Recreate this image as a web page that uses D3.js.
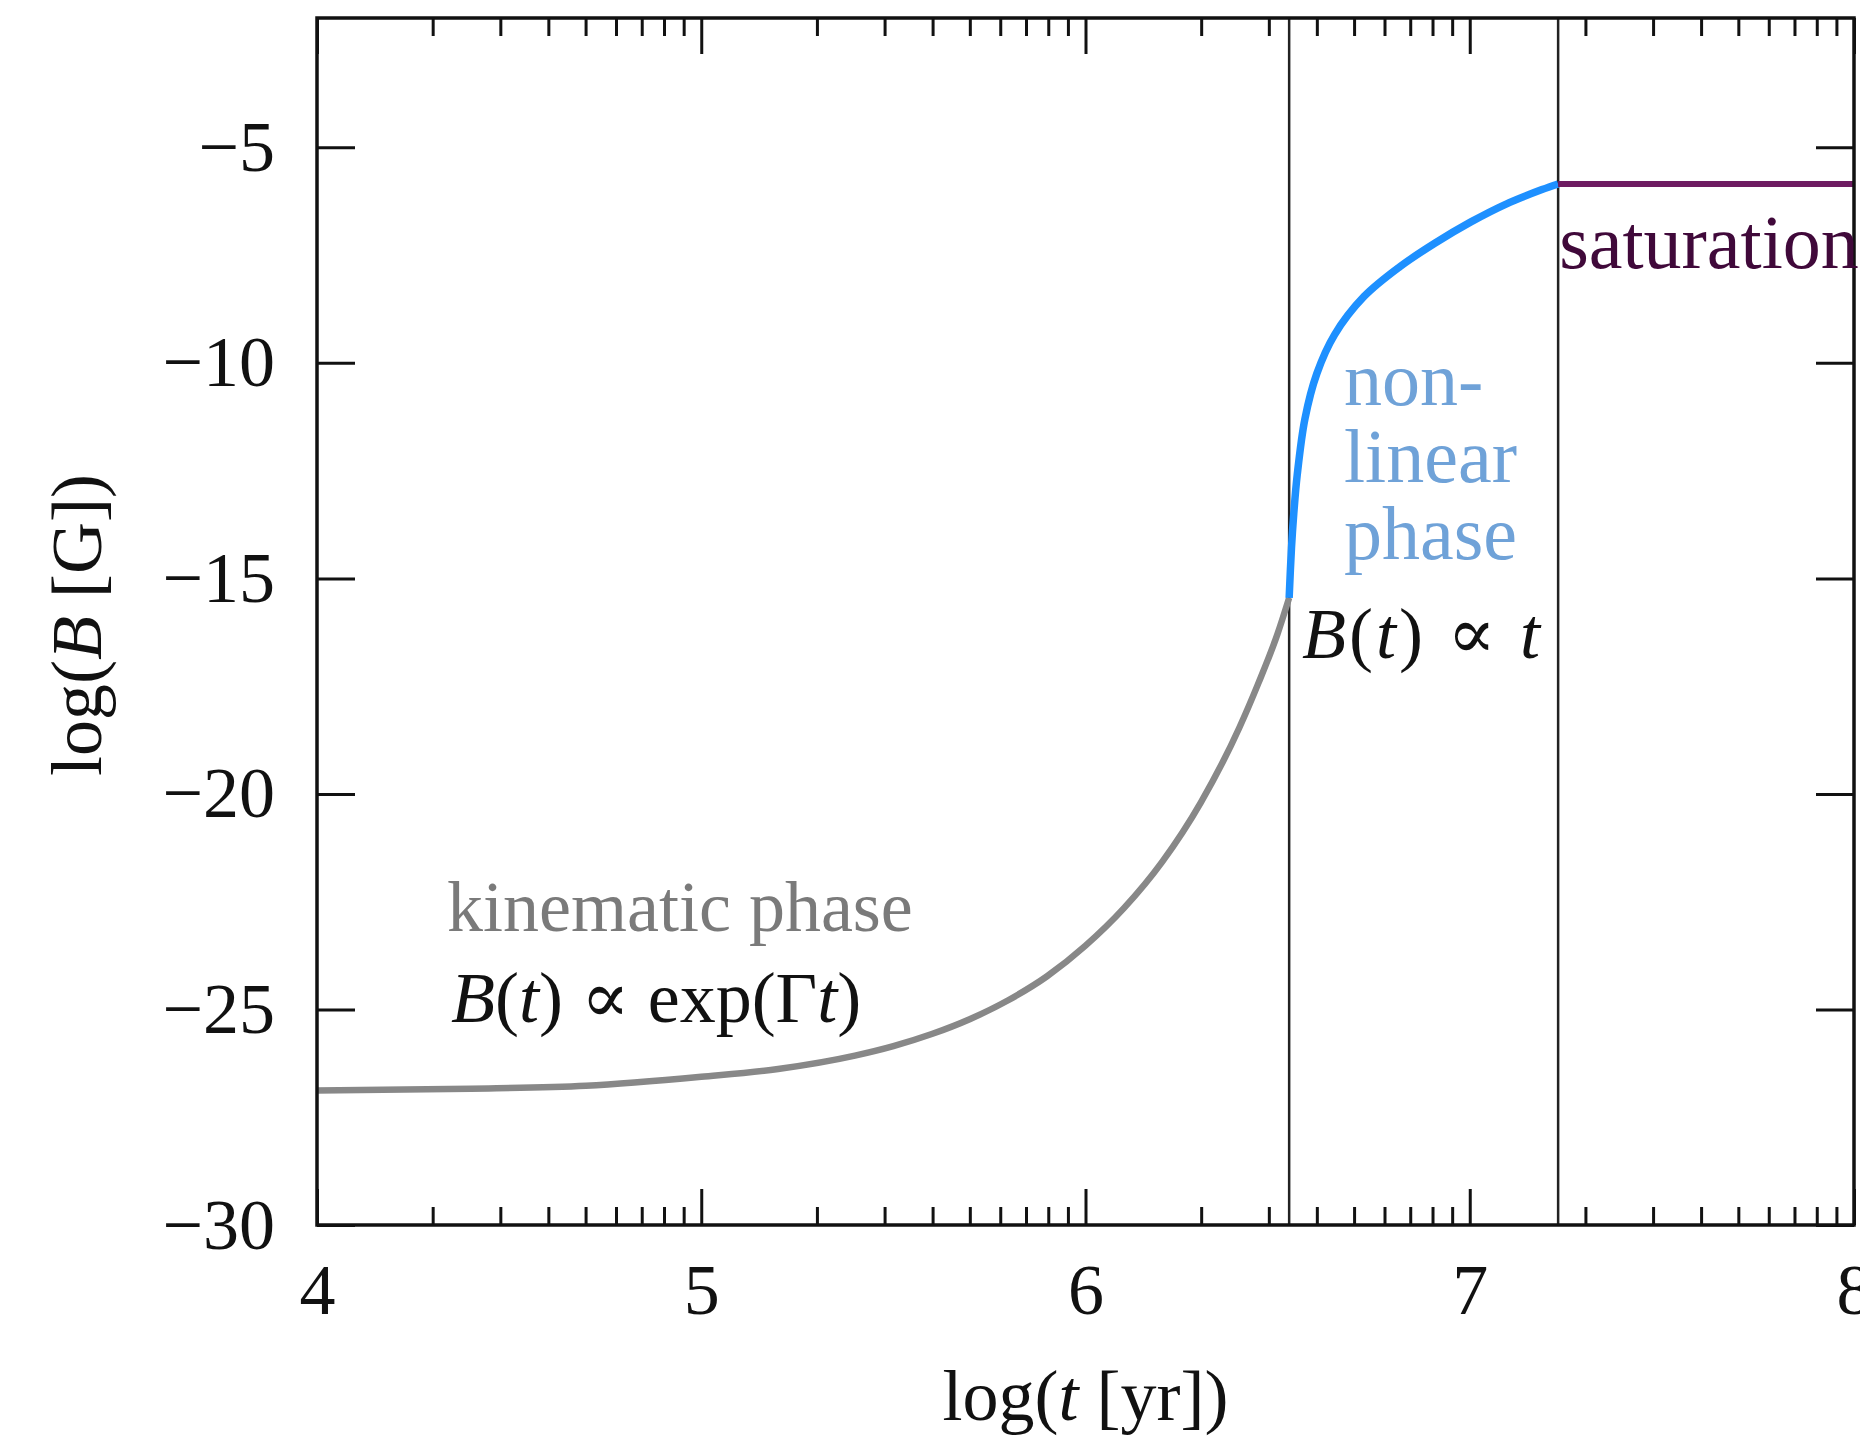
<!DOCTYPE html>
<html>
<head>
<meta charset="utf-8">
<script src="https://cdn.jsdelivr.net/npm/d3@7"></script>
<style>
  body { margin: 0; background: #fff; }
  text { font-family: "Liberation Serif", "DejaVu Serif", serif; }
</style>
</head>
<body>
<div id="chart"></div>
<script>
// log(t) and log(B)
const kinematicX = [4.0, 4.4, 4.7, 5.0, 5.2, 5.4, 5.5, 5.6, 5.7, 5.8, 5.9, 6.0, 6.1, 6.2, 6.3, 6.4, 6.45, 6.5, 6.53];
const kinematicY = [-26.88, -26.84, -26.77, -26.56, -26.38, -26.07, -25.85, -25.57, -25.22, -24.78, -24.23, -23.52, -22.65, -21.57, -20.2, -18.47, -17.43, -16.28, -15.45];

const nonlinearX = [6.53, 6.536, 6.542, 6.551, 6.571, 6.602, 6.648, 6.725, 6.818, 6.91, 7.003, 7.096, 7.188, 7.23];
const nonlinearY = [-15.45, -14.3, -13.5, -12.6, -11.3, -10.25, -9.35, -8.46, -7.77, -7.22, -6.73, -6.31, -5.98, -5.85];

const saturationX = [7.23, 8.0];
const saturationY = [-5.85, -5.85];

const phaseBounds = [6.53, 7.23];

const xMajor = [4, 5, 6, 7, 8];
const yMajor = [-5, -10, -15, -20, -25, -30];

function renderChart(containerId) {
    const W = 1860, H = 1438;
    const margin = { top: 18, right: 6, bottom: 213, left: 317 };
    const width = W - margin.left - margin.right;
    const height = H - margin.top - margin.bottom;

    const svg = d3.select(`#${containerId}`)
        .append('svg')
        .attr('width', W)
        .attr('height', H)
        .append('g')
        .attr('transform', `translate(${margin.left},${margin.top})`);

    const x = d3.scaleLinear().domain([4, 8]).range([0, width]);
    const y = d3.scaleLinear().domain([-30, -2]).range([height, 0]);

    // minor ticks at log10(k * 10^n)
    const xMinor = [];
    for (let n = 4; n < 8; n++) {
        for (let k = 2; k <= 9; k++) xMinor.push(n + Math.log10(k));
    }

    const fmt = d3.format('d');

    const styleAxis = g => {
        g.select('.domain').remove();
        g.selectAll('line').attr('stroke', '#111').attr('stroke-width', 3);
        g.selectAll('text')
            .attr('fill', '#111')
            .style('font-size', '72px')
            .style('font-family', '"Liberation Serif", serif');
    };

    // bottom
    svg.append('g')
        .attr('transform', `translate(0,${height})`)
        .call(d3.axisBottom(x).tickValues(xMajor).tickFormat(fmt).tickSizeInner(-36).tickSizeOuter(0).tickPadding(38))
        .call(styleAxis);
    svg.append('g')
        .attr('transform', `translate(0,${height})`)
        .call(d3.axisBottom(x).tickValues(xMinor).tickFormat('').tickSizeInner(-18).tickSizeOuter(0))
        .call(styleAxis);
    // top
    svg.append('g')
        .call(d3.axisTop(x).tickValues(xMajor).tickFormat('').tickSizeInner(-36).tickSizeOuter(0))
        .call(styleAxis);
    svg.append('g')
        .call(d3.axisTop(x).tickValues(xMinor).tickFormat('').tickSizeInner(-18).tickSizeOuter(0))
        .call(styleAxis);
    // left
    svg.append('g')
        .call(d3.axisLeft(y).tickValues(yMajor).tickFormat(fmt).tickSizeInner(-38).tickSizeOuter(0).tickPadding(42))
        .call(styleAxis);
    // right
    svg.append('g')
        .attr('transform', `translate(${width},0)`)
        .call(d3.axisRight(y).tickValues(yMajor).tickFormat('').tickSizeInner(-38).tickSizeOuter(0))
        .call(styleAxis);

    // phase boundaries
    svg.selectAll('.bound')
        .data(phaseBounds)
        .enter()
        .append('line')
        .attr('x1', d => x(d))
        .attr('x2', d => x(d))
        .attr('y1', 0)
        .attr('y2', height)
        .attr('stroke', '#222')
        .attr('stroke-width', 2.5);

    const curves = [
        { xs: kinematicX, ys: kinematicY, color: '#888888', w: 6.5, curve: d3.curveMonotoneX },
        { xs: nonlinearX, ys: nonlinearY, color: '#1e90ff', w: 7.5, curve: d3.curveCatmullRom.alpha(0.5) },
        { xs: saturationX, ys: saturationY, color: '#6e1c62', w: 6, curve: d3.curveLinear }
    ];
    curves.forEach(c => {
        const line = d3.line()
            .x(d => x(d[0]))
            .y(d => y(d[1]))
            .curve(c.curve);
        svg.append('path')
            .datum(d3.zip(c.xs, c.ys))
            .attr('fill', 'none')
            .attr('stroke', c.color)
            .attr('stroke-width', c.w)
            .attr('d', line);
    });

    // frame
    svg.append('rect')
        .attr('width', width)
        .attr('height', height)
        .attr('fill', 'none')
        .attr('stroke', '#111')
        .attr('stroke-width', 3.5);

    // annotations
    const ann = svg.append('g').style('font-size', '72px');

    ann.append('text')
        .attr('x', 130).attr('y', 913)
        .attr('fill', '#7a7a7a')
        .text('kinematic phase');

    const kin = ann.append('text').attr('x', 134).attr('y', 1004).attr('fill', '#111');
    kin.append('tspan').style('font-style', 'italic').text('B');
    kin.append('tspan').text('(');
    kin.append('tspan').style('font-style', 'italic').text('t');
    kin.append('tspan').text(') ∝ exp(Γ');
    kin.append('tspan').style('font-style', 'italic').text('t');
    kin.append('tspan').text(')');

    ['non-', 'linear', 'phase'].forEach((s, i) => {
        ann.append('text')
            .attr('x', 1027).attr('y', 387 + i * 77)
            .attr('fill', '#6fa2d8')
            .style('font-size', '76px')
            .text(s);
    });

    const nl = ann.append('text').attr('x', 985).attr('y', 640).attr('fill', '#111')
        .attr('textLength', 238).attr('lengthAdjust', 'spacing');
    nl.append('tspan').style('font-style', 'italic').text('B');
    nl.append('tspan').text('(');
    nl.append('tspan').style('font-style', 'italic').text('t');
    nl.append('tspan').text(') ∝ ');
    nl.append('tspan').style('font-style', 'italic').text('t');

    ann.append('text')
        .attr('x', x(7.23) + 1).attr('y', 250)
        .attr('fill', '#40093a')
        .style('font-size', '76px')
        .text('saturation');

    // axis titles
    const xt = svg.append('text')
        .attr('x', x(6)).attr('y', height + 195)
        .attr('text-anchor', 'middle')
        .style('font-size', '72px')
        .attr('fill', '#111');
    xt.append('tspan').text('log(');
    xt.append('tspan').style('font-style', 'italic').text('t');
    xt.append('tspan').text(' [yr])');

    const yt = svg.append('text')
        .attr('transform', 'rotate(-90)')
        .attr('x', -y(-16.08)).attr('y', -216)
        .attr('text-anchor', 'middle')
        .style('font-size', '72px')
        .attr('fill', '#111');
    yt.append('tspan').text('log(');
    yt.append('tspan').style('font-style', 'italic').text('B');
    yt.append('tspan').text(' [G])');
}

renderChart('chart');
</script>
</body>
</html>
